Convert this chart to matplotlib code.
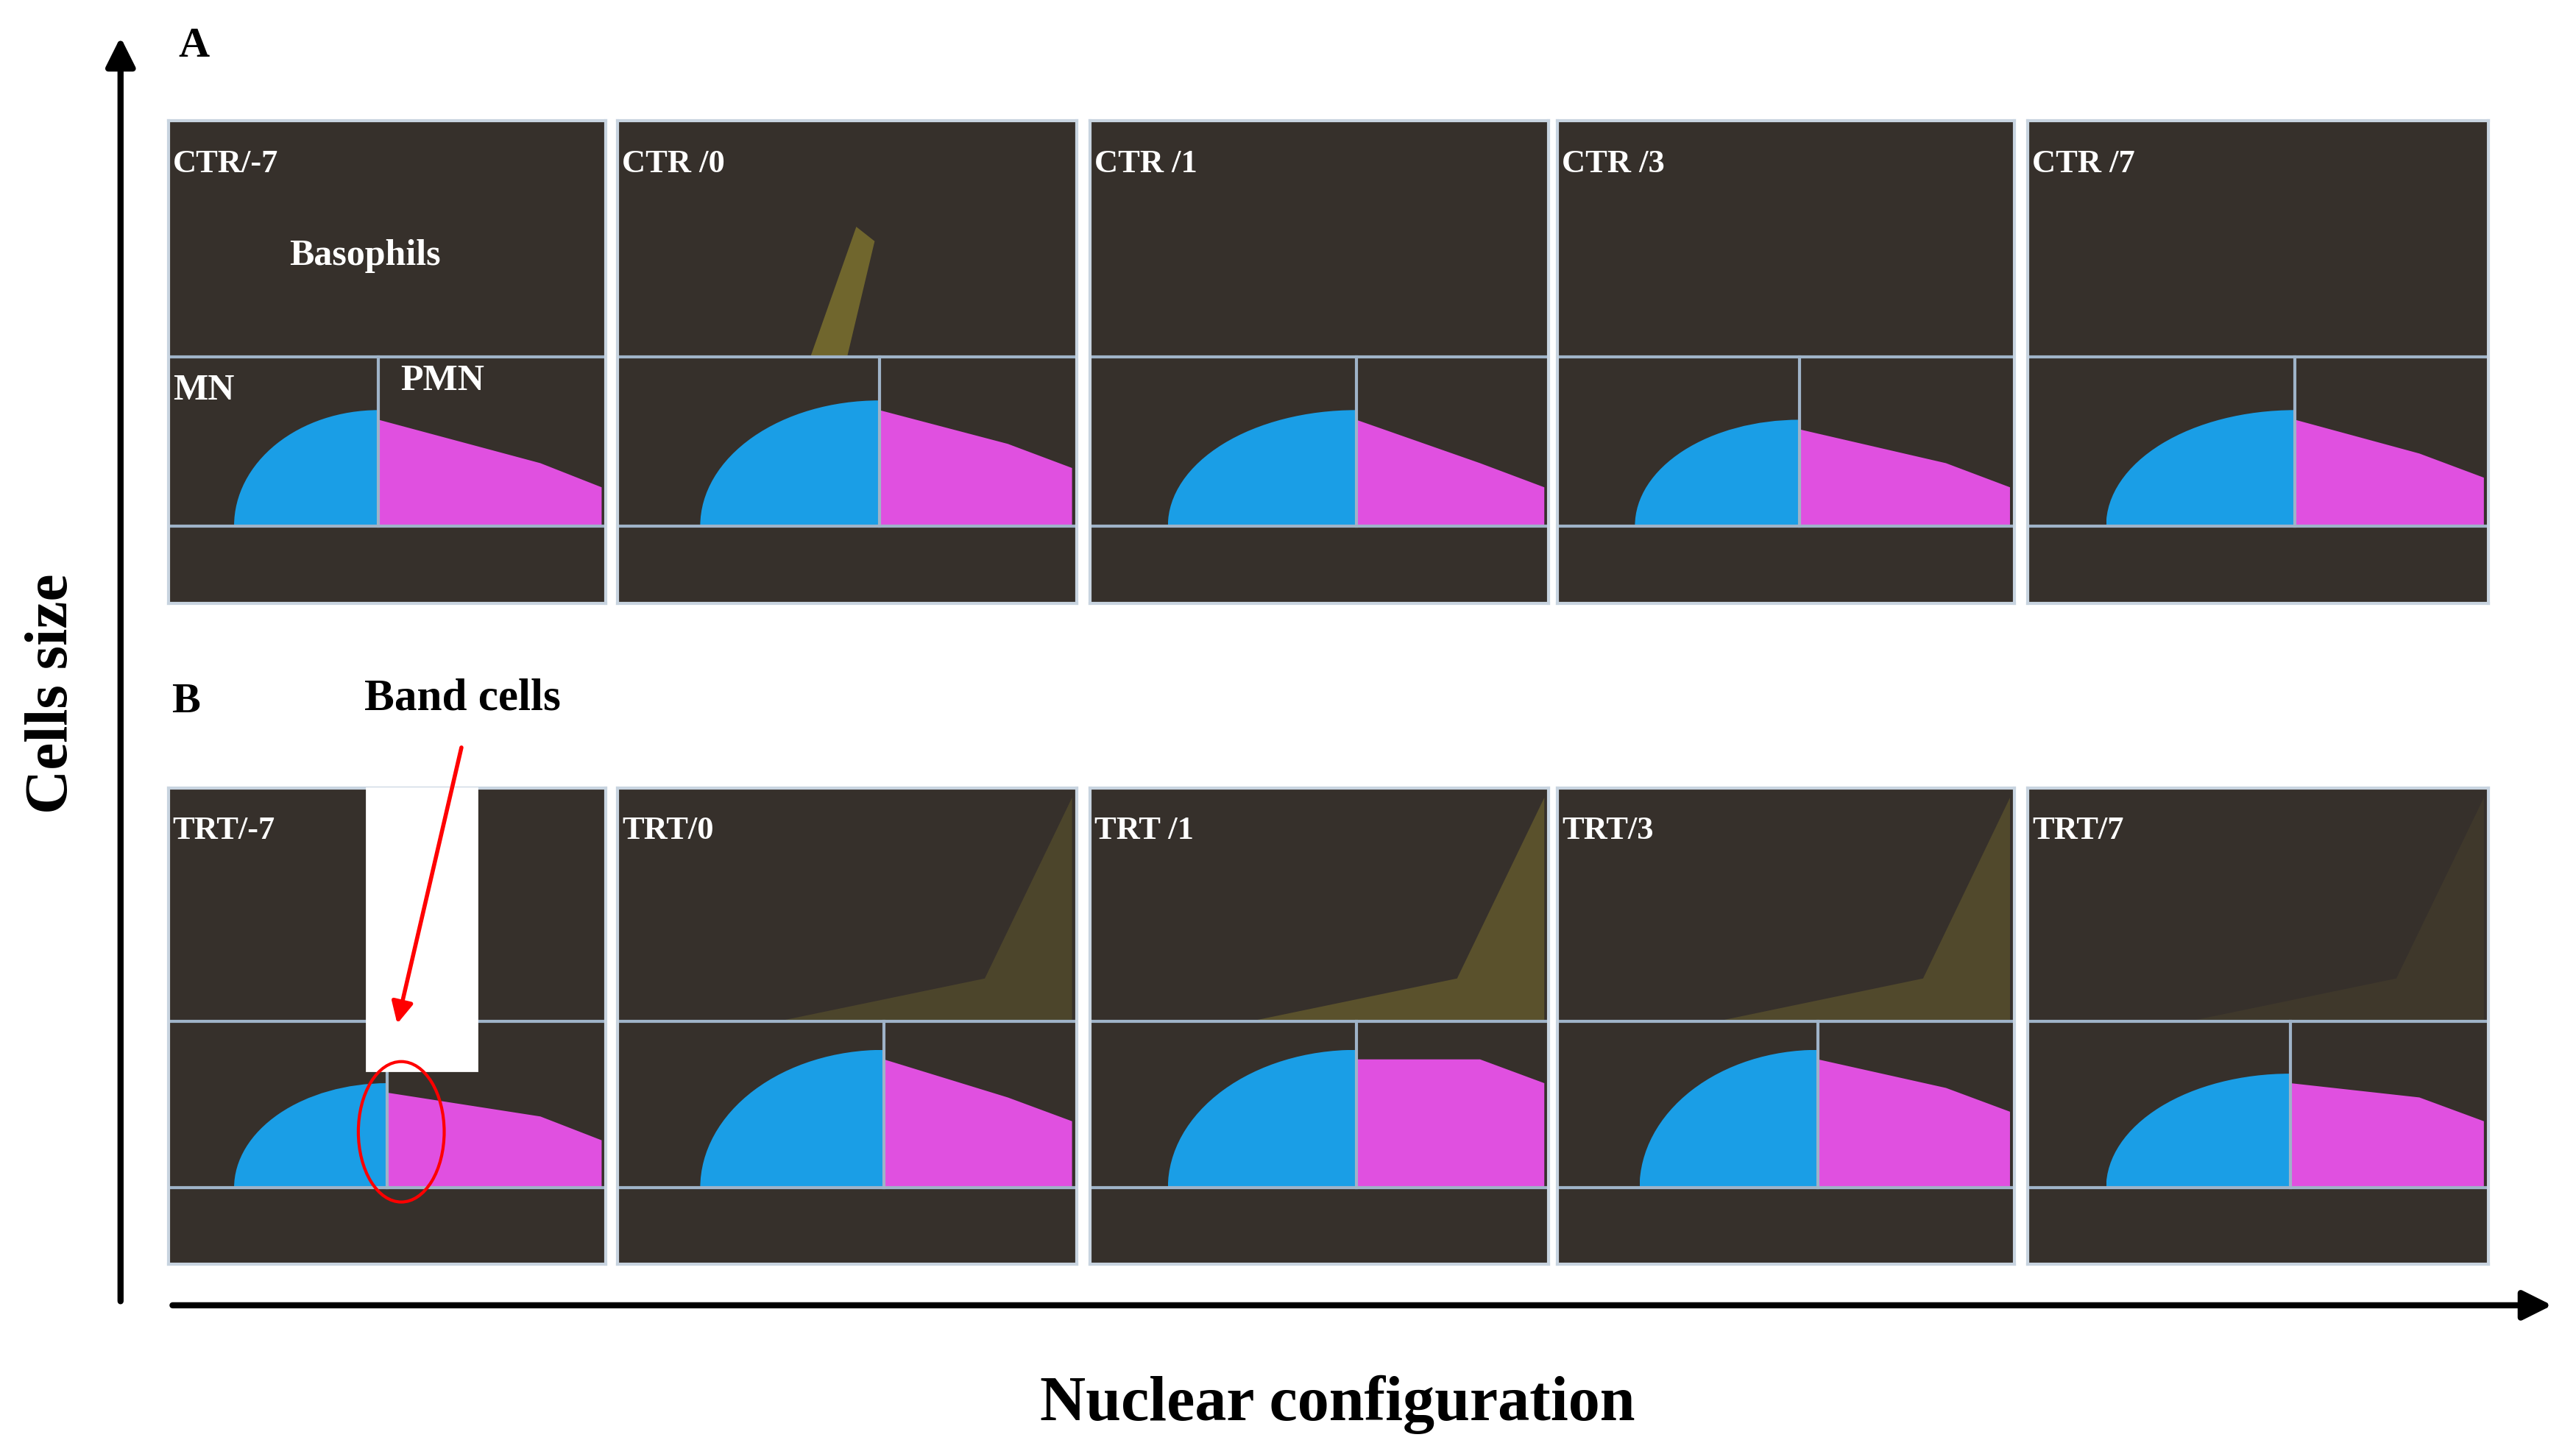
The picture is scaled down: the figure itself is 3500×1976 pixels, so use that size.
import matplotlib
matplotlib.use("Agg")
import matplotlib.pyplot as plt
from matplotlib.patches import Ellipse, Polygon, Rectangle, FancyArrowPatch

labels_a = ["CTR/-7", "CTR /0", "CTR /1", "CTR /3", "CTR /7"]
labels_b = ["TRT/-7", "TRT/0", "TRT /1", "TRT/3", "TRT/7"]
panel_x = [(102, 367), (374, 652), (660, 938), (943, 1220), (1228, 1507)]
divider_a = [0.48, 0.57, 0.58, 0.53, 0.58]
divider_b = [0.50, 0.58, 0.58, 0.57, 0.57]
blue_left_a = [0.15, 0.18, 0.17, 0.17, 0.17]
blue_left_b = [0.15, 0.18, 0.17, 0.18, 0.17]
blue_top_a = [0.60, 0.58, 0.60, 0.62, 0.60]
blue_top_b = [0.62, 0.55, 0.55, 0.55, 0.60]
mag_top_right_a = [0.74, 0.70, 0.74, 0.74, 0.72]
mag_top_right_b = [0.72, 0.68, 0.60, 0.66, 0.68]
baso_b = [0.0, 0.5, 0.8, 0.6, 0.2]

W, H = 1560, 880
fig = plt.figure(figsize=(17.5, 9.88), dpi=200)
fig.patch.set_facecolor("white")
def fx(x): return x / W
def fy(y): return 1 - y / H
SERIF = ["Liberation Serif", "DejaVu Serif"]
BG = "#36302b"
GATE = "#9fb3c8"

def panel(x0, x1, y0, y1, label, div, bl, bt, mtr, baso, streak=False):
    ax = fig.add_axes([fx(x0), fy(y1), fx(x1) - fx(x0), (y1 - y0) / H])
    ax.set_xlim(0, 1); ax.set_ylim(1, 0)
    ax.set_facecolor(BG)
    for s in ax.spines.values():
        s.set_color("#c8d4e0"); s.set_linewidth(1.5)
    ax.set_xticks([]); ax.set_yticks([])
    if baso > 0:
        ax.add_patch(Polygon([(0.35, 0.49), (0.99, 0.49), (0.99, 0.02), (0.8, 0.4)],
                             closed=True, color="#b8a830", alpha=0.35 * baso, lw=0))
    if streak:
        ax.add_patch(Polygon([(0.42, 0.49), (0.5, 0.49), (0.56, 0.25), (0.52, 0.22)],
                             closed=True, color="#b8a830", alpha=0.45, lw=0))
    e = Ellipse((div, 0.84), (div - bl) * 2, (0.84 - bt) * 2, color="#1a9ee6", lw=0)
    ax.add_patch(e)
    e.set_clip_path(Rectangle((bl, bt), div - bl, 0.84 - bt, transform=ax.transData))
    ax.add_patch(Polygon([(div, bt + 0.02), (0.85, mtr - 0.03), (0.99, mtr + 0.02),
                          (0.99, 0.84), (div, 0.84)], closed=True, color="#e050e0", lw=0))
    ax.axhline(0.49, color=GATE, lw=1.5)
    ax.axhline(0.84, color=GATE, lw=1.5)
    ax.plot([div, div], [0.49, 0.84], color=GATE, lw=1.5)
    ax.text(0.01, 0.09, label, color="white", fontsize=16, fontweight="bold",
            family=SERIF, va="center")
    return ax

for i, (x0, x1) in enumerate(panel_x):
    ax = panel(x0, x1, 73, 365, labels_a[i], divider_a[i], blue_left_a[i],
               blue_top_a[i], mag_top_right_a[i], 0.0, streak=(i == 1))
    if i == 0:
        ax.text(0.45, 0.28, "Basophils", color="white", fontsize=18, fontweight="bold", family=SERIF, ha="center", va="center")
        ax.text(0.01, 0.56, "MN", color="white", fontsize=18, fontweight="bold", family=SERIF, va="center")
        ax.text(0.53, 0.54, "PMN", color="white", fontsize=18, fontweight="bold", family=SERIF, va="center")
for i, (x0, x1) in enumerate(panel_x):
    panel(x0, x1, 477, 765, labels_b[i], divider_b[i], blue_left_b[i],
          blue_top_b[i], mag_top_right_b[i], baso_b[i])

fig.text(fx(108), fy(28), "A", fontsize=21, fontweight="bold", family=SERIF, va="center")
fig.text(fx(104), fy(425), "B", fontsize=21, fontweight="bold", family=SERIF, va="center")
fig.text(fx(280), fy(423), "Band cells", fontsize=22, fontweight="bold", family=SERIF, ha="center", va="center")
fig.text(fx(32), fy(420), "Cells size", fontsize=30, fontweight="bold", family=SERIF, rotation=90, ha="center", va="center")
fig.text(fx(810), fy(850), "Nuclear configuration", fontsize=31, fontweight="bold", family=SERIF, ha="center", va="center")

fig.patches.append(Rectangle((fx(222), fy(648)), (289 - 222) / W, (648 - 477) / H,
                             transform=fig.transFigure, color="white", zorder=5))
fig.patches.append(FancyArrowPatch((fx(280), fy(450)), (fx(240), fy(622)), transform=fig.transFigure,
                                   arrowstyle="-|>", mutation_scale=22, color="red", lw=2, zorder=6))
fig.patches.append(Ellipse((fx(243), fy(685)), 52 / W, 85 / H, transform=fig.transFigure,
                           fill=False, edgecolor="red", lw=1.5, zorder=6))
fig.patches.append(FancyArrowPatch((fx(73), fy(790)), (fx(73), fy(20)), transform=fig.transFigure,
                                   arrowstyle="-|>", mutation_scale=30, color="black", lw=3))
fig.patches.append(FancyArrowPatch((fx(102), fy(790)), (fx(1548), fy(790)), transform=fig.transFigure,
                                   arrowstyle="-|>", mutation_scale=30, color="black", lw=3))

fig.savefig("out.png", dpi=200)
